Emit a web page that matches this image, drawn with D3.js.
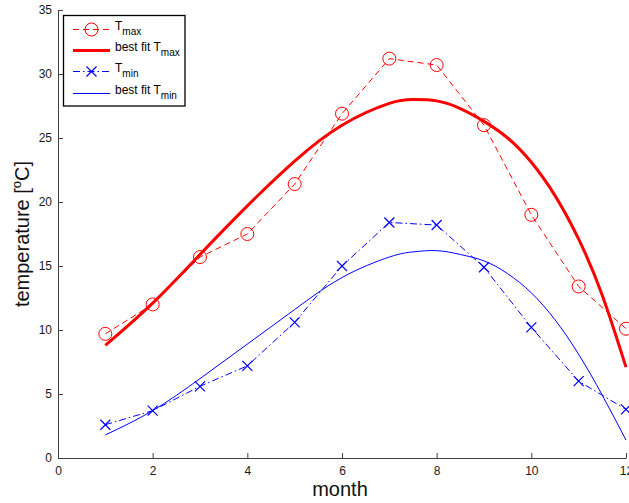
<!DOCTYPE html>
<html>
<head>
<meta charset="utf-8">
<script src="https://cdn.jsdelivr.net/npm/d3@7"></script>
<style>
    body { margin: 0; background: #fff; }
    svg { display: block; font-family: "Liberation Sans", Arial, sans-serif; }
</style>
</head>
<body>
<div id="chart"></div>
<script>
(function (d3) {
    "use strict";

    /***** Données *****/

    var months = [1, 2, 3, 4, 5, 6, 7, 8, 9, 10, 11, 12];
    var tmax = [9.7, 12.0, 15.7, 17.5, 21.4, 26.9, 31.2, 30.7, 26.0, 19.0, 13.4, 10.1];
    var tmin = [2.6, 3.7, 5.6, 7.2, 10.6, 15.0, 18.4, 18.2, 14.9, 10.2, 6.0, 3.8];

    // courbes d'ajustement
    var fitMonths = [1, 2, 3, 4, 5, 6, 7, 7.5, 8, 8.5, 9, 9.5, 10, 10.5, 11, 11.5, 12];
    var fitTmax = [8.8, 12.1, 15.9, 19.7, 23.2, 26.0, 27.7, 28.0, 27.9, 27.3, 26.3, 25.0, 23.1, 20.5, 17.1, 12.7, 7.1];
    var fitTmin = [1.8, 3.7, 6.2, 8.9, 11.6, 14.1, 15.7, 16.1, 16.2, 15.9, 15.4, 14.4, 12.9, 10.8, 8.1, 4.9, 1.4];

    var xTicks = [0, 2, 4, 6, 8, 10, 12];
    var yTicks = [0, 5, 10, 15, 20, 25, 30, 35];

    /***** Configuration *****/

    var width = 629;
    var height = 503;
    var axisColor = "#404040";

    var x = d3.scaleLinear().domain([0, 12]).range([58, 626]);
    var y = d3.scaleLinear().domain([0, 35]).range([458, 10]);

    var svg = d3.select("#chart")
        .append("svg")
        .attr("width", width)
        .attr("height", height);

    /***** Axes *****/

    var xAxis = svg.append("g")
        .attr("transform", "translate(0," + y(0) + ")")
        .call(d3.axisBottom(x).tickValues(xTicks).tickSizeInner(-5).tickSizeOuter(0).tickPadding(8));

    var yAxis = svg.append("g")
        .attr("transform", "translate(" + x(0) + ",0)")
        .call(d3.axisLeft(y).tickValues(yTicks).tickSizeInner(-5).tickSizeOuter(0).tickPadding(6));

    [xAxis, yAxis].forEach(function (a) {
        a.select(".domain").attr("stroke", axisColor);
        a.selectAll(".tick line").attr("stroke", axisColor);
        a.selectAll(".tick text")
            .attr("fill", "#1a1a1a")
            .style("font-size", "12px")
            .style("font-family", "Liberation Sans, Arial, sans-serif");
    });

    // Titres des axes
    svg.append("text")
        .attr("x", (x(0) + x(12)) / 2 - 2)
        .attr("y", 496)
        .attr("text-anchor", "middle")
        .style("font-size", "20px")
        .attr("fill", "#111")
        .text("month");

    var yLabel = svg.append("text")
        .attr("transform", "translate(29," + 234 + ") rotate(-90)")
        .attr("text-anchor", "middle")
        .style("font-size", "20px")
        .attr("fill", "#111");
    yLabel.append("tspan").text("temperature [");
    yLabel.append("tspan").attr("dy", -8).style("font-size", "13px").text("o");
    yLabel.append("tspan").attr("dy", 8).text("C]");

    /***** Courbes *****/

    var line = d3.line()
        .x(function (d) { return x(d[0]); })
        .y(function (d) { return y(d[1]); });

    var smooth = d3.line()
        .x(function (d) { return x(d[0]); })
        .y(function (d) { return y(d[1]); })
        .curve(d3.curveNatural);

    var tmaxPts = months.map(function (m, i) { return [m, tmax[i]]; });
    var tminPts = months.map(function (m, i) { return [m, tmin[i]]; });
    var fitMaxPts = fitMonths.map(function (m, i) { return [m, fitTmax[i]]; });
    var fitMinPts = fitMonths.map(function (m, i) { return [m, fitTmin[i]]; });

    var plot = svg.append("g").attr("fill", "none");

    plot.append("path")
        .attr("d", line(tmaxPts))
        .attr("stroke", "#ff0000")
        .attr("stroke-width", 1)
        .attr("stroke-dasharray", "6,4");

    plot.selectAll(".circ")
        .data(tmaxPts)
        .enter()
        .append("circle")
        .attr("class", "circ")
        .attr("cx", function (d) { return x(d[0]); })
        .attr("cy", function (d) { return y(d[1]); })
        .attr("r", 6.5)
        .attr("stroke", "#ff0000")
        .attr("stroke-width", 1);

    plot.append("path")
        .attr("d", smooth(fitMaxPts))
        .attr("stroke", "#ff0000")
        .attr("stroke-width", 3);

    plot.append("path")
        .attr("d", line(tminPts))
        .attr("stroke", "#0000ff")
        .attr("stroke-width", 1)
        .attr("stroke-dasharray", "7,3,1.5,3");

    function cross(sel, s) {
        sel.append("path")
            .attr("d", "M" + (-s) + "," + (-s) + "L" + s + "," + s + "M" + (-s) + "," + s + "L" + s + "," + (-s))
            .attr("stroke", "#0000ff")
            .attr("stroke-width", 1.2);
    }

    plot.selectAll(".cross")
        .data(tminPts)
        .enter()
        .append("g")
        .attr("class", "cross")
        .attr("transform", function (d) { return "translate(" + x(d[0]) + "," + y(d[1]) + ")"; })
        .call(cross, 5);

    plot.append("path")
        .attr("d", smooth(fitMinPts))
        .attr("stroke", "#0000ff")
        .attr("stroke-width", 1);

    /***** Légende *****/

    var legend = svg.append("g");
    legend.append("rect")
        .attr("x", 63.5)
        .attr("y", 15.5)
        .attr("width", 121.5)
        .attr("height", 90.5)
        .attr("fill", "#fff")
        .attr("stroke", "#000")
        .attr("stroke-width", 1.3);

    var entries = [
        { y: 29.5, label: "T", sub: "max", color: "#ff0000", width: 1, dash: "6,4", marker: "circle" },
        { y: 50.5, label: "best fit T", sub: "max", color: "#ff0000", width: 3, dash: null, marker: null },
        { y: 71.5, label: "T", sub: "min", color: "#0000ff", width: 1, dash: "7,3,1.5,3", marker: "cross" },
        { y: 93.5, label: "best fit T", sub: "min", color: "#0000ff", width: 1, dash: null, marker: null }
    ];

    entries.forEach(function (e) {
        var g = legend.append("g").attr("transform", "translate(0," + e.y + ")");
        g.append("line")
            .attr("x1", 73).attr("x2", 110)
            .attr("stroke", e.color)
            .attr("stroke-width", e.width)
            .attr("stroke-dasharray", e.dash);
        if (e.marker === "circle") {
            g.append("circle").attr("cx", 91.5).attr("r", 6.5)
                .attr("fill", "none").attr("stroke", e.color);
        } else if (e.marker === "cross") {
            g.append("g").attr("transform", "translate(91.5,0)").call(cross, 5);
        }
        var t = g.append("text")
            .attr("x", 115)
            .attr("y", 0)
            .style("font-size", "12px")
            .attr("fill", "#000");
        t.append("tspan").text(e.label);
        t.append("tspan").attr("dy", 5).style("font-size", "10px").text(e.sub);
    });

})(d3);
</script>
</body>
</html>
